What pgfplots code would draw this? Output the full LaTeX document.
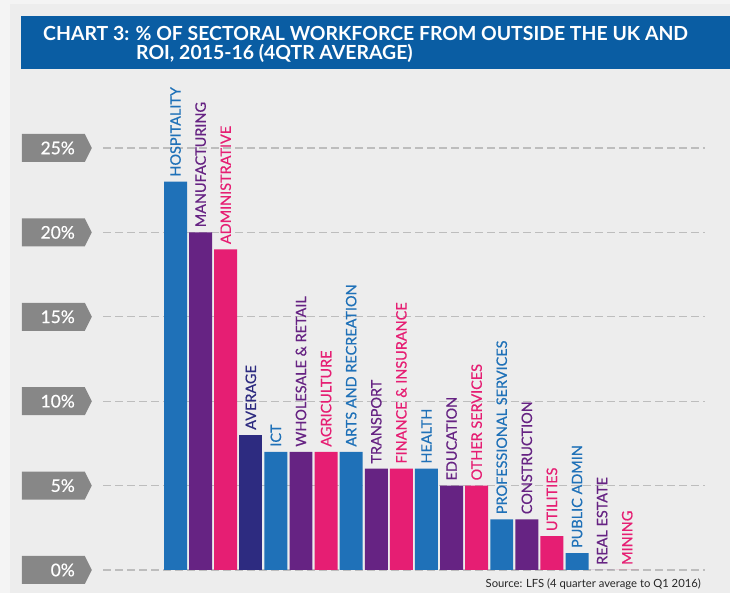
\documentclass[border=0pt]{standalone}
\usepackage{pgfplots}
\pgfplotsset{compat=1.18}
\usepackage{fontspec}
\setmainfont{Lato}
\newfontfamily\medfont[FakeBold=0.5]{Lato}
\usetikzlibrary{shapes.symbols}
\definecolor{bg}{HTML}{EDEDED}
\definecolor{outer}{HTML}{F4F4F4}
\definecolor{titleblue}{HTML}{0A5DA3}
\definecolor{cblue}{HTML}{1F71B8}
\definecolor{cpurple}{HTML}{662383}
\definecolor{cpink}{HTML}{E61E73}
\definecolor{cnavy}{HTML}{2D2B80}
\definecolor{tagc}{HTML}{878787}
\definecolor{gridc}{HTML}{BDBDBD}
\begin{document}
\begin{tikzpicture}[x=1bp,y=1bp]
\path[use as bounding box, fill=outer] (0,0) rectangle (730,593);
\fill[bg] (10,0) rectangle (730,589);
\fill[titleblue] (21,524) rectangle (730,577);
\node[anchor=base west, text=white, font=\fontsize{19.5}{22}\selectfont\bfseries, inner sep=0pt] at (43,552) {CHART 3: \% OF SECTORAL WORKFORCE FROM OUTSIDE THE UK AND};
\node[anchor=base west, text=white, font=\fontsize{19.5}{22}\selectfont\bfseries, inner sep=0pt] at (136,533) {ROI, 2015-16 (4QTR AVERAGE)};
\begin{axis}[
  at={(103bp,23bp)}, anchor=south west,
  scale only axis, width=602bp, height=438.88bp,
  xmin=-2.89, xmax=21.1, ymin=0, ymax=26,
  axis line style={draw=none},
  xtick=\empty,
  ytick={0,5,10,15,20,25},
  yticklabels={0\%,5\%,10\%,15\%,20\%,25\%},
  major tick length=0pt,
  ymajorgrids,
  major grid style={gridc, line width=1.3bp, dash pattern=on 8bp off 4bp},
  yticklabel style={shape=signal, signal to=east, signal pointer angle=127,
    fill=tagc, text=white, font=\medfont\fontsize{17.5}{17.5}\selectfont,
    text width=43bp, align=right, inner xsep=10bp, minimum height=28bp,
    anchor=east, xshift=-11bp},
  clip=false,
  ybar, bar width=0.915,
  point meta=explicit symbolic,
  nodes near coords,
  every node near coord/.append style={rotate=90, anchor=west,
    font=\medfont\fontsize{14.5}{14.5}\selectfont, inner xsep=5bp, inner ysep=0pt},
]
\addplot[fill=cblue, draw=none, bar shift=0pt, every node near coord/.append style={text=cblue}]
 coordinates {(0,23) [HOSPITALITY] (4,7) [ICT] (7,7) [ARTS AND RECREATION] (10,6) [HEALTH] (13,3) [PROFESSIONAL SERVICES] (16,1) [PUBLIC ADMIN]};
\addplot[fill=cpurple, draw=none, bar shift=0pt, every node near coord/.append style={text=cpurple}]
 coordinates {(1,20) [MANUFACTURING] (5,7) [WHOLESALE \& RETAIL] (8,6) [TRANSPORT] (11,5) [EDUCATION] (14,3) [CONSTRUCTION] (17,0) [REAL ESTATE]};
\addplot[fill=cpink, draw=none, bar shift=0pt, every node near coord/.append style={text=cpink}]
 coordinates {(2,19) [ADMINISTRATIVE] (6,7) [AGRICULTURE] (9,6) [FINANCE \& INSURANCE] (12,5) [OTHER SERVICES] (15,2) [UTILITIES] (18,0) [MINING]};
\addplot[fill=cnavy, draw=none, bar shift=0pt, every node near coord/.append style={text=cnavy}]
 coordinates {(3,8) [AVERAGE]};
\end{axis}
\node[anchor=base east, text=black!85, font=\fontsize{11.3}{11.3}\selectfont, inner sep=0pt] at (701,5) {Source: LFS (4 quarter average to Q1 2016)};
\end{tikzpicture}
\end{document}
